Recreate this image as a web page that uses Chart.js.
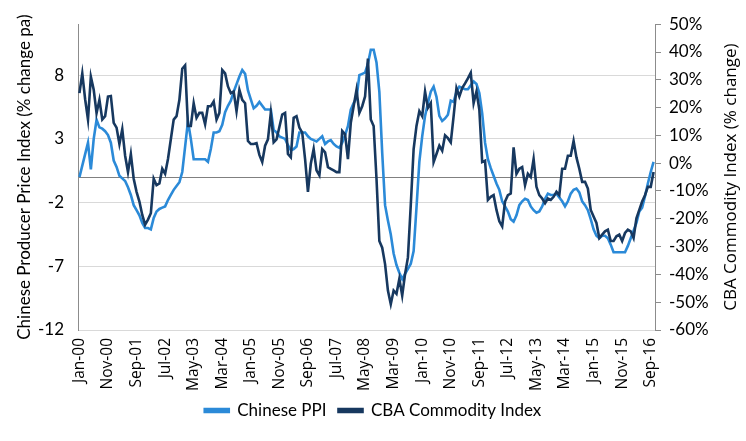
<!DOCTYPE html>
<html>
<head>
<meta charset="utf-8">
<script src="https://cdn.jsdelivr.net/npm/chart.js@4"></script>
<style>
  html, body { margin: 0; padding: 0; background: #fff; }
  #wrap { width: 746px; height: 441px; }
</style>
</head>
<body>
<div id="wrap"><canvas id="chartCanvas" width="746" height="441"></canvas></div>
<script>
// --- data: monthly, Jan-00 .. Oct-16 ---
const startYear = 2000;
const monthNames = ["Jan", "Feb", "Mar", "Apr", "May", "Jun", "Jul", "Aug", "Sep", "Oct", "Nov", "Dec"];

// Chinese PPI, % change pa (left axis)
const chinesePPI = [
  0, 0.9, 1.8, 2.7, 0.6, 3, 4.5, 3.9, 3.8, 3.6, 3.3, 2.7,
  1.3, 0.8, 0.1, -0.1, -0.3, -0.8, -1.4, -2.2, -2.6, -3, -3.6, -4,
  -4, -4.1, -3.2, -2.7, -2.5, -2.4, -2.3, -1.8, -1.4, -1, -0.7, -0.4,
  0.4, 2.4, 4.4, 3, 1.4, 1.4, 1.4, 1.4, 1.4, 1.2, 2.2, 3.5,
  3.5, 3.6, 4.1, 5.1, 5.6, 6, 6.7, 7.3, 7.9, 8.4, 8.1, 6.8,
  6.1, 5.4, 5.6, 5.9, 5.6, 5.3, 5.3, 5.3, 3.7, 3.5, 3.2, 3.1,
  3, 2.5, 2.1, 2.2, 2.4, 3.5, 3.5, 3.5, 3.2, 3, 2.9, 2.8,
  3, 3.2, 2.6, 2.8, 2.9, 2.6, 2.4, 2.3, 2.7, 3.3, 4, 5.3,
  5.8, 6.2, 8, 8.1, 8.2, 8.9, 10, 10, 9, 6.7, 1.9, -2.2,
  -3.4, -4.5, -6, -6.9, -7.5, -8, -7.6, -7.2, -6.8, -5.8, -2.4, 1.2,
  3.2, 4.8, 5.8, 6.7, 7.1, 6.3, 4.8, 4.4, 4.6, 4.9, 6, 5.9,
  6.7, 7.1, 7, 6.9, 6.9, 7.2, 7.5, 7.3, 6.6, 5, 2.7, 1.4,
  0.7, 0.1, -0.5, -1, -1.9, -2.3, -2.7, -3.3, -3.5, -3, -2.2, -1.9,
  -1.7, -1.8, -2.3, -2.6, -2.8, -2.7, -2.3, -1.7, -1.3, -1.4, -1.4, -1.3,
  -1.6, -1.9, -2.3, -1.9, -1.3, -1, -0.9, -1.2, -1.9, -2.2, -2.6, -3.3,
  -4.1, -4.6, -4.8, -4.6, -4.6, -4.8, -5.3, -5.9, -5.9, -5.9, -5.9, -5.9,
  -5.4, -4.8, -4.2, -3.6, -2.7, -2.4, -1.5, -0.5, 0.4, 1.2
];

// CBA Commodity Index, % change (right axis)
const cbaIndex = [
  25.2, 32.3, 23, 15.7, 31.1, 26.4, 18, 22.8, 15.7, 16.9, 24, 24.2,
  14.5, 12.8, 6.9, 12.2, 2.7, -3.2, 3.3, -5.6, -10.3, -13.8, -18.6, -22.1,
  -20.3, -18, -5.6, -7.9, -7.3, -2, -3.8, 1.5, 8.6, 15.7, 16.9, 22.8,
  34, 35.2, 13.4, 13.4, 21.6, 16.3, 18.1, 18.1, 14, 20.5, 20.5, 22.2,
  15.7, 18.1, 33.5, 32.3, 27.6, 25.2, 25.8, 18.7, 26.4, 22.8, 21.6, 8,
  6.9, 6.9, 7.2, 3, 0.4, 6.3, 8.6, 18.1, 7.5, 8.6, 13, 17.5,
  18.1, 3.3, 2.1, 16.3, 16.9, 12.8, 11, 1.5, -10.3, -0.2, 5.1, -2.6,
  -4.4, 5.1, 3.9, -1.4, -2, -2.6, -3.2, -3.2, 11.6, 10.4, 1.5, 14.5,
  20.5, 26.4, 18.1, 20.5, 24, 37.6, 15.7, 13.4, -5.6, -28, -30.4, -36.3,
  -45.8, -50.7, -45.8, -47, -41.6, -47.6, -39.9, -33.9, -15, 5.1, 13.4, 18.7,
  16.9, 25.8, 19.9, 21.6, 0.4, 3.3, 6.3, 4.5, 10, 9, 7.5, 16.9,
  27, 24, 27, 28.7, 30.5, 32.5, 21.6, 25.8, 19.3, 0.4, 0.9, -13.2,
  -12.1, -11.5, -16.8, -20.9, -22.7, -13.8, -11.5, -10.9, 5.7, -3.8, -2, -1.4,
  -7.9, -3.8, -5, 1.5, -8.5, -11.5, -12.7, -14.4, -12.7, -13.2, -12.1, -10.3,
  -11.5, -2, -2, 2.7, 2.7, 8, 2.1, -2, -6.7, -6.7, -9.1, -16.8,
  -19.2, -21.5, -26.9, -25.7, -24.5, -23.9, -28, -28, -26.3, -25.7, -28, -25.1,
  -23.9, -24.5, -26.9, -19.8, -16.8, -13.8, -11.5, -8.5, -8.5, -3.2
];

const leftTicks = [-12, -7, -2, 0, 3, 8];
const labelEvery = 10;

// month labels like "Jan-00"
const labels = chinesePPI.map((_, i) => {
  const yr = startYear + Math.floor(i / 12);
  return monthNames[i % 12] + "-" + String(yr % 100).padStart(2, "0");
});

const FONT = "Lato, 'Open Sans', sans-serif";
const TICKFONT = "'Open Sans', Lato, sans-serif";

// right axis title reads bottom-to-top, so draw it by hand
const rightTitle = {
  id: "rightTitle",
  afterDraw(chart) {
    const { ctx, chartArea } = chart;
    ctx.save();
    ctx.translate(731, (chartArea.top + chartArea.bottom) / 2);
    ctx.rotate(-Math.PI / 2);
    ctx.font = "17px " + TICKFONT;
    ctx.fillStyle = "#000";
    ctx.textAlign = "center";
    ctx.textBaseline = "middle";
    ctx.fillText("CBA Commodity Index (% change)", 0, 0);
    ctx.restore();
  }
};

new Chart(document.getElementById("chartCanvas"), {
  type: "line",
  data: {
    labels,
    datasets: [
      {
        label: "Chinese PPI",
        data: chinesePPI,
        yAxisID: "y",
        borderColor: "#2b8ad8",
        backgroundColor: "#2b8ad8",
        borderWidth: 2.6,
        pointRadius: 0,
        order: 1
      },
      {
        label: "CBA Commodity Index",
        data: cbaIndex,
        yAxisID: "y1",
        borderColor: "#17385f",
        backgroundColor: "#17385f",
        borderWidth: 2.6,
        pointRadius: 0,
        order: 0
      }
    ]
  },
  options: {
    responsive: false,
    animation: false,
    layout: { padding: { top: 18, left: 0, right: 0, bottom: 12 } },
    plugins: {
      tooltip: { enabled: false },
      legend: {
        position: "bottom",
        labels: {
          sort: (a, b) => a.datasetIndex - b.datasetIndex,
          boxWidth: 24,
          boxHeight: 3,
          padding: 12,
          color: "#000",
          font: { family: FONT, size: 17 }
        }
      }
    },
    scales: {
      x: {
        type: "category",
        offset: true,
        grid: { display: false },
        border: { display: false },
        ticks: {
          autoSkip: false,
          maxRotation: 90,
          minRotation: 90,
          padding: 0,
          color: "#000",
          font: { family: TICKFONT, size: 15.5 },
          callback: (v, i) => (i % labelEvery === 0 ? labels[i] : null)
        },
        afterFit: s => { s.height = 60; }
      },
      y: {
        position: "left",
        min: -12,
        max: 12,
        afterBuildTicks: s => { s.ticks = leftTicks.map(v => ({ value: v })); },
        afterFit: s => { s.width = 78; },
        grid: {
          drawTicks: false,
          color: c => (c.tick && c.tick.value === 0 ? "#808080" : "#d9d9d9"),
          lineWidth: 1
        },
        border: { display: true, color: "#8c8c8c" },
        ticks: {
          padding: 14,
          color: "#000",
          font: { family: FONT, size: 17 },
          callback: v => (v === 0 ? "" : v)
        },
        title: {
          display: true,
          text: "Chinese Producer Price Index (% change pa)",
          color: "#000",
          font: { family: FONT, size: 17 },
          padding: { top: 14, bottom: 0 }
        }
      },
      y1: {
        position: "right",
        min: -60,
        max: 50,
        afterFit: s => { s.width = 91; },
        grid: { drawOnChartArea: false, tickLength: 6, color: "#8c8c8c" },
        border: { display: true, color: "#8c8c8c" },
        ticks: {
          stepSize: 10,
          padding: 8,
          color: "#000",
          font: { family: FONT, size: 17 },
          callback: v => v + "%"
        }
      }
    }
  },
  plugins: [rightTitle]
});
</script>
</body>
</html>
